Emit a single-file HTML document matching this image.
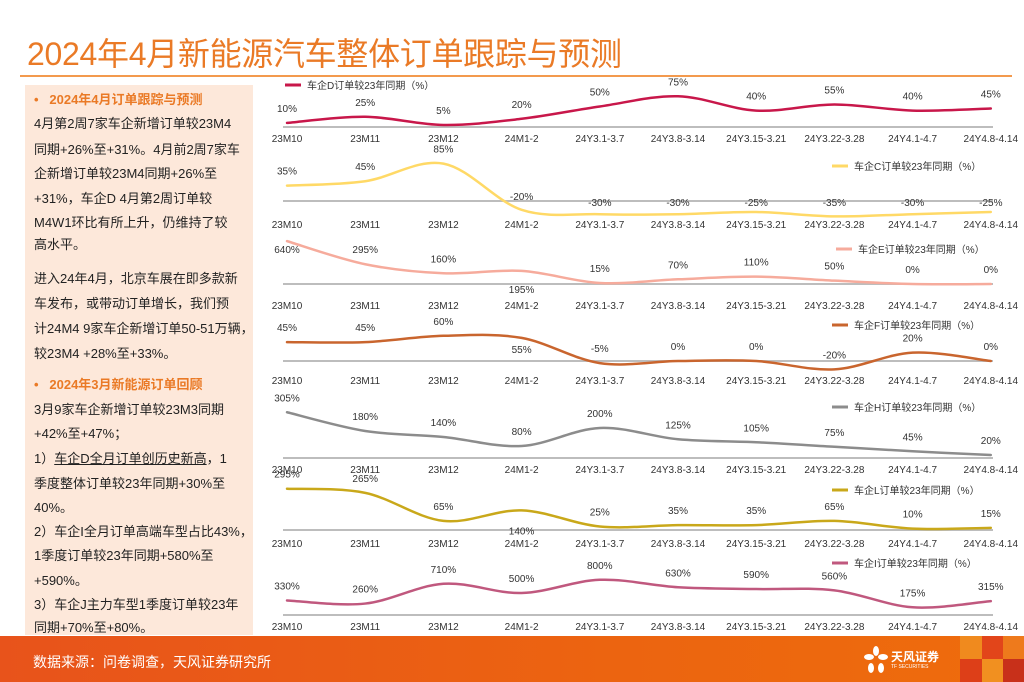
<!DOCTYPE html>
<html><head><meta charset="utf-8">
<style>
*{margin:0;padding:0;box-sizing:border-box}
body{width:1024px;height:682px;overflow:hidden;background:#fff;position:relative;font-family:"Liberation Sans","Noto Sans CJK SC",sans-serif}
#title{position:absolute;left:27px;top:29px;font-size:32px;color:#ea7a26;white-space:nowrap;letter-spacing:-0.3px}
#rule{position:absolute;left:20px;top:75px;width:992px;height:2px;background:#f39a4e}
#panel{position:absolute;left:25px;top:85px;width:228px;height:550px;background:#fde8da}
.ln{position:absolute;left:9px;font-size:13px;color:#222;white-space:nowrap;line-height:15px}
.hd{color:#ea7a26;font-weight:bold;font-size:13px}
#footer{position:absolute;left:0;top:636px;width:1024px;height:46px;background:linear-gradient(90deg,#e8531b,#ec6410 60%,#ee6c0c)}
#src{position:absolute;left:33px;top:16px;color:#fff;font-size:14px}
svg{position:absolute;left:0;top:0}
</style></head><body>
<div id="title">2024年4月新能源汽车整体订单跟踪与预测</div>
<div id="rule"></div>
<div id="panel">
<div class="ln hd" style="top:7px">•&nbsp;&nbsp;&nbsp;2024年4月订单跟踪与预测</div>
<div class="ln" style="top:31px">4月第2周7家车企新增订单较23M4</div>
<div class="ln" style="top:57px">同期+26%至+31%。4月前2周7家车</div>
<div class="ln" style="top:81px">企新增订单较23M4同期+26%至</div>
<div class="ln" style="top:106px">+31%，车企D 4月第2周订单较</div>
<div class="ln" style="top:130px">M4W1环比有所上升，仍维持了较</div>
<div class="ln" style="top:152px">高水平。</div>
<div class="ln" style="top:186px">进入24年4月，北京车展在即多款新</div>
<div class="ln" style="top:211px">车发布，或带动订单增长，我们预</div>
<div class="ln" style="top:236px">计24M4 9家车企新增订单50-51万辆，</div>
<div class="ln" style="top:261px">较23M4 +28%至+33%。</div>
<div class="ln hd" style="top:292px">•&nbsp;&nbsp;&nbsp;2024年3月新能源订单回顾</div>
<div class="ln" style="top:317px">3月9家车企新增订单较23M3同期</div>
<div class="ln" style="top:341px">+42%至+47%；</div>
<div class="ln" style="top:366px">1）<u>车企D全月订单创历史新高</u>，1</div>
<div class="ln" style="top:391px">季度整体订单较23年同期+30%至</div>
<div class="ln" style="top:415px">40%。</div>
<div class="ln" style="top:439px">2）车企I全月订单高端车型占比43%，</div>
<div class="ln" style="top:463px">1季度订单较23年同期+580%至</div>
<div class="ln" style="top:488px">+590%。</div>
<div class="ln" style="top:512px">3）车企J主力车型1季度订单较23年</div>
<div class="ln" style="top:535px">同期+70%至+80%。</div>
</div>
<div id="footer">
<div id="src">数据来源：问卷调查，天风证券研究所</div>
<div style="position:absolute;left:960px;top:0;width:22px;height:23px;background:#f08a1e"></div>
<div style="position:absolute;left:982px;top:0;width:21px;height:23px;background:#e2451a"></div>
<div style="position:absolute;left:1003px;top:0;width:21px;height:23px;background:#ee7a1c"></div>
<div style="position:absolute;left:960px;top:23px;width:22px;height:23px;background:#dd3f18"></div>
<div style="position:absolute;left:982px;top:23px;width:21px;height:23px;background:#f19020"></div>
<div style="position:absolute;left:1003px;top:23px;width:21px;height:23px;background:#c8301a"></div>
<div style="position:absolute;left:864px;top:10px;width:80px;height:30px">
<svg width="24" height="28" viewBox="0 0 24 28" style="position:absolute;left:0;top:0"><g fill="#fff"><ellipse cx="12" cy="5" rx="3" ry="5"/><ellipse cx="5" cy="11" rx="5" ry="3"/><ellipse cx="19" cy="11" rx="5" ry="3"/><ellipse cx="7" cy="22" rx="3" ry="5"/><ellipse cx="17" cy="22" rx="3" ry="5"/></g></svg>
<div style="position:absolute;left:27px;top:2px;color:#fff;font-size:12px;font-weight:bold;white-space:nowrap">天风证券</div>
<div style="position:absolute;left:27px;top:18px;color:#fff;font-size:5px;white-space:nowrap">TF SECURITIES</div>
</div>
</div>
<svg id="charts" width="1024" height="682"></svg>
<script>
const categories=["23M10","23M11","23M12","24M1-2","24Y3.1-3.7","24Y3.8-3.14","24Y3.15-3.21","24Y3.22-3.28","24Y4.1-4.7","24Y4.8-4.14"];
const seriesD=[10,25,5,20,50,75,40,55,40,45];
const seriesC=[35,45,85,-20,-30,-30,-25,-35,-30,-25];
const seriesE=[640,295,160,195,15,70,110,50,0,0];
const seriesF=[45,45,60,55,-5,0,0,-20,20,0];
const seriesH=[305,180,140,80,200,125,105,75,45,20];
const seriesL=[295,265,65,140,25,35,35,65,10,15];
const seriesI=[330,260,710,500,800,630,590,560,175,315];
const legendNames=["车企D订单较23年同期（%）","车企C订单较23年同期（%）","车企E订单较23年同期（%）","车企F订单较23年同期（%）","车企H订单较23年同期（%）","车企L订单较23年同期（%）","车企I订单较23年同期（%）"];

const NS="http://www.w3.org/2000/svg";
const svg=document.getElementById('charts');
function xAt(i){return 287+i*78.2;}
function mk(tag,attrs){const e=document.createElementNS(NS,tag);for(const k in attrs)e.setAttribute(k,attrs[k]);svg.appendChild(e);return e;}
function smooth(pts){let d="M"+pts[0][0]+","+pts[0][1];for(let i=0;i<pts.length-1;i++){const p0=pts[i-1]||pts[i],p1=pts[i],p2=pts[i+1],p3=pts[i+2]||p2;const t=0.5/3;d+=" C"+(p1[0]+(p2[0]-p0[0])*t)+","+(p1[1]+(p2[1]-p0[1])*t)+" "+(p2[0]-(p3[0]-p1[0])*t)+","+(p2[1]-(p3[1]-p1[1])*t)+" "+p2[0]+","+p2[1];}return d;}
const charts=[
 {vals:seriesD,base:127,tick:142,scale:0.41,color:"#c8174a",lx:285,ly:85,name:"chart-company-d"},
 {vals:seriesC,base:201,tick:228,scale:0.44,color:"#ffd966",lx:832,ly:166,name:"chart-company-c"},
 {vals:seriesE,base:284,tick:309,scale:0.067,color:"#f6ab9c",lx:836,ly:249,name:"chart-company-e",special:{0:12,3:22}},
 {vals:seriesF,base:361,tick:384,scale:0.42,color:"#c9652e",lx:832,ly:325,name:"chart-company-f",special:{3:15}},
 {vals:seriesH,base:458,tick:473,scale:0.15,color:"#8c8c8c",lx:832,ly:407,name:"chart-company-h"},
 {vals:seriesL,base:530,tick:547,scale:0.14,color:"#c9a81a",lx:832,ly:490,name:"chart-company-l",special:{3:24}},
 {vals:seriesI,base:615,tick:630,scale:0.044,color:"#c0587e",lx:832,ly:563,name:"chart-company-i"}
];
charts.forEach((c,ci)=>{
 const yOf=v=>c.base-v*c.scale;
 const base=mk('line',{x1:283,x2:993,y1:c.base,y2:c.base,stroke:"#bdbdbd","stroke-width":2});
 
 
 categories.forEach((cat,i)=>{
  const t=mk('text',{x:xAt(i),y:c.tick,"font-size":10,fill:"#333","text-anchor":"middle","font-family":"Liberation Sans, sans-serif"});
  t.textContent=cat;
  
  
 });
 const pts=c.vals.map((v,i)=>[xAt(i),yOf(v)]);
 const p=mk('path',{d:smooth(pts),fill:"none",stroke:c.color,"stroke-width":2.5,"stroke-linecap":"round"});
 
 
 c.vals.forEach((v,i)=>{
  let ly=pts[i][1]-11;
  if(c.special&&c.special[i]!==undefined)ly=pts[i][1]+c.special[i];
  if(c.vals===seriesC&&v<0)ly=c.base+(v===-20?-1:5);
  const t=mk('text',{x:xAt(i),y:ly,"font-size":10,fill:"#333","text-anchor":"middle","font-family":"Liberation Sans, sans-serif"});
  t.textContent=v+"%";
  
  
 });
 const ll=mk('line',{x1:c.lx,x2:c.lx+16,y1:c.ly,y2:c.ly,stroke:c.color,"stroke-width":3});
 
 
 const lt=mk('text',{x:c.lx+22,y:c.ly+4,"font-size":10,fill:"#333","font-family":"Liberation Sans, Noto Sans CJK SC, sans-serif"});
 lt.textContent=legendNames[ci];
 
 
});
</script>
</body></html>
